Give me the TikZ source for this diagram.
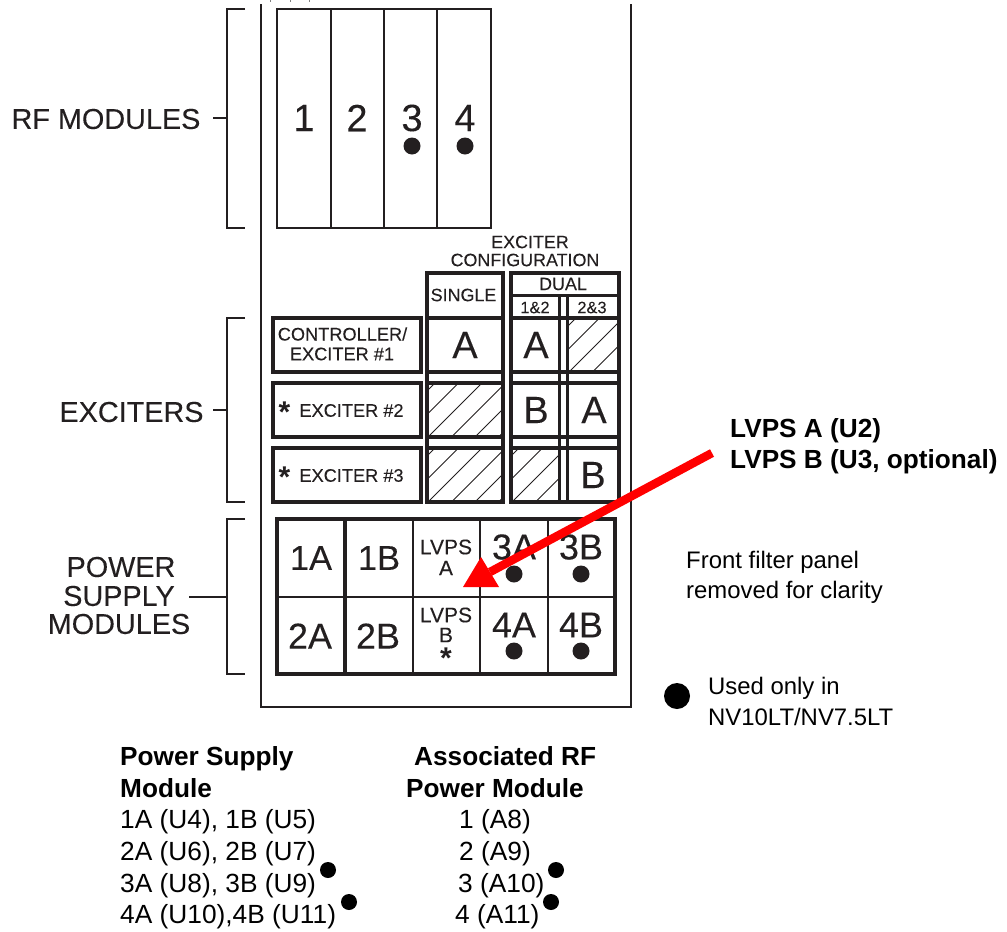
\documentclass[tikz,border=0pt]{standalone}
\usepackage{fontspec}
\setmainfont{Liberation Sans}
\newfontfamily\diagfont[FakeBold=0.12]{Liberation Sans}
\definecolor{ink}{HTML}{231F20}
\tikzset{
 x=1pt,y=-1pt,
 thin line/.style={draw=ink,line width=1.3pt},
 panel/.style={draw=ink,line width=1.9pt},
 heavyline/.style={draw=ink,line width=3.3pt},
 lbl/.style={inner sep=0pt,text=ink,align=center,font=\diagfont\fontsize{#1}{#1}\selectfont},
 lbl/.default=28.8,
 txt/.style={inner sep=0pt,text=black,anchor=west,yshift=-2pt,font=\fontsize{23.9}{23.9}\selectfont},
 tabletxt/.style={inner sep=0pt,text=black,anchor=base west,font=\fontsize{26.3}{26.3}\selectfont},
 boldtxt/.style={inner sep=0pt,text=black,anchor=base west,font=\fontsize{26.2}{26.2}\selectfont\bfseries},
 dot/.style={circle,fill=black,inner sep=0pt,minimum size=#1},
 dot/.default=16,
 inkdot/.style={circle,fill=ink,inner sep=0pt,minimum size=17},
}
\newcommand{\hatchbox}[4]{%
 \begin{scope}
 \clip (#1,#2) rectangle (#3,#4);
 \foreach \k in {-3,...,8}{
   \draw[ink,line width=0.8pt] ({#1+\k*23.5},{#4}) -- ++(80,-80);
 }
 \end{scope}}
\begin{document}
\begin{tikzpicture}
\useasboundingbox (0,0) rectangle (1007,932);
% panel
\draw[panel] (261,4) -- (261,707) -- (631,707) -- (631,4);
% top remnants
\foreach \px in {270,290,309}{\draw[gray,line width=1pt] (\px,0) -- (\px,1.5);}
% brackets
\draw[thin line] (245,9) -- (227,9) -- (227,228) -- (245,228);
\draw[thin line] (213,118) -- (227,118);
\draw[thin line] (245,318) -- (227,318) -- (227,502) -- (245,502);
\draw[thin line] (213,410) -- (227,410);
\draw[thin line] (245,519) -- (227,519) -- (227,674) -- (245,674);
\draw[thin line] (189,597) -- (227,597);
% side labels
\node[lbl] (rfl) at (106,119) {RF MODULES};
\node[lbl] (exl) at (131.5,412) {EXCITERS};
\node[lbl] (psl) at (121,567) {POWER};
\node[lbl] (psl2) at (119,596) {SUPPLY};
\node[lbl] (psl3) at (119,624) {MODULES};
% RF
\draw[panel] (277,9) rectangle (491,228);
\foreach \px in {331,384,437}{\draw[panel] (\px,9) -- (\px,228);}
\node[lbl=38] (r1) at (304,118) {1};
\node[lbl=38] (r2) at (357,118) {2};
\node[lbl=38] (r3) at (412,118) {3};
\node[lbl=38] (r4) at (465,118) {4};
\node[inkdot] (rd3) at (412,146) {};
\node[inkdot] (rd4) at (465,146) {};
% exciter boxes
\draw[heavyline] (273,318) rectangle (421,372);
\draw[heavyline] (273,383) rectangle (421,437);
\draw[heavyline] (273,448) rectangle (421,502);
\node[lbl=18.2] (c1) at (342.5,334) {CONTROLLER/};
\node[lbl=18.2] (c2) at (342,354) {EXCITER \#1};
\node[lbl=18.2] (e2) at (351.5,410.5) {EXCITER \#2};
\node[lbl=18.2] (e3) at (351.5,475.5) {EXCITER \#3};
\node[lbl=30,font=\fontsize{30}{30}\selectfont\bfseries] (s2) at (284.5,412) {*};
\node[lbl=30,font=\fontsize{30}{30}\selectfont\bfseries] (s3) at (284.5,477) {*};
% config heading
\node[lbl=17.9] (h1) at (530,242) {EXCITER};
\node[lbl=17.9] (h2) at (525,260) {CONFIGURATION};
% hatch
\hatchbox{428}{383}{503}{437}
\hatchbox{428}{448}{503}{502}
\hatchbox{512}{448}{559}{502}
\hatchbox{569}{318}{618}{372}
% config grid
\draw[heavyline] (427,273) rectangle (503,502);
\draw[heavyline] (511,273) rectangle (619,502);
\draw[heavyline] (511,295.5) -- (619,295.5);
\draw[heavyline] (559.5,295) -- (559.5,502);
\draw[heavyline] (567.5,295) -- (567.5,502);
\foreach \py in {318,372,383,437,448}{
  \draw[heavyline] (427,\py) -- (503,\py);
  \draw[heavyline] (511,\py) -- (619,\py);
}
\node[lbl=17.9] (sg) at (463.5,295) {SINGLE};
\node[lbl=17.9] (du) at (563,284) {DUAL};
\node[lbl=16.4] (d12) at (535,307.5) {1\&2};
\node[lbl=16.4] (d23) at (592,307.5) {2\&3};
\node[lbl=38] (sa) at (465,345) {A};
\node[lbl=38] (da1) at (536,345) {A};
\node[lbl=38] (db1) at (536,410) {B};
\node[lbl=38] (da2) at (594,410) {A};
\node[lbl=38] (db2) at (593,475) {B};
% power supply
\draw[heavyline] (277,519) rectangle (615,674);
\draw[panel,line width=2.6pt] (277,597) -- (615,597);
\draw[heavyline] (345,519) -- (345,674);
\draw[panel,line width=2.6pt] (413,519) -- (413,674);
\draw[panel] (480,519) -- (480,674);
\draw[panel,line width=2.6pt] (548,519) -- (548,674);
\node[lbl=34.5] (p1a) at (311,558) {1A};
\node[lbl=34.5] (p1b) at (379,558) {1B};
\node[lbl=36] (p2a) at (310,636) {2A};
\node[lbl=36] (p2b) at (378,636) {2B};
\node[lbl=36] (p3a) at (514,547) {3A};
\node[lbl=36] (p3b) at (581,547) {3B};
\node[lbl=36] (p4a) at (514,625) {4A};
\node[lbl=36] (p4b) at (581,625) {4B};
\node[inkdot] (pd3a) at (514,574) {};
\node[inkdot] (pd3b) at (581,574) {};
\node[inkdot] (pd4a) at (514,651) {};
\node[inkdot] (pd4b) at (581,651) {};
\node[lbl=21] (lva) at (446,547) {LVPS};
\node[lbl=21] (lvaa) at (446,568) {A};
\node[lbl=21] (lvb) at (446,615) {LVPS};
\node[lbl=21] (lvbb) at (446,635) {B};
\node[lbl=30,font=\fontsize{30}{30}\selectfont\bfseries] (lvs) at (446,658) {*};
% red arrow
\coordinate (arrowstart) at (712,453);
\coordinate (arrowtip) at (463,587);
\coordinate (headbase) at (490,572);
\draw[red,line width=8.5pt] (arrowstart) -- (headbase);
\fill[red] (arrowtip) -- (481,557) -- (499,587) -- cycle;
% annotations
\node[boldtxt] (n1) at (730,437) {LVPS A (U2)};
\node[boldtxt] (n2) at (730,468) {LVPS B (U3, optional)};
\node[txt] (f1) at (686,560) {Front filter panel};
\node[txt] (f2) at (686,590) {removed for clarity};
\node[dot=26] (legend) at (677,696) {};
\node[txt] (u1) at (708,686) {Used only in};
\node[txt] (u2) at (708,715) {NV10LT/NV7.5LT};
% table
\node[boldtxt] (t1) at (120,765) {Power Supply};
\node[boldtxt] (t2) at (120,797) {Module};
\node[tabletxt] (t3) at (120,828.5) {1A (U4), 1B (U5)};
\node[tabletxt] (t4) at (120,860) {2A (U6), 2B (U7)};
\node[tabletxt] (t5) at (120,892) {3A (U8), 3B (U9)};
\node[tabletxt] (t6) at (120,923.5) {4A (U10),4B (U11)};
\node[boldtxt] (a1) at (414,765) {Associated RF};
\node[boldtxt] (a2) at (406,797) {Power Module};
\node[tabletxt] (a3) at (459,828.5) {1 (A8)};
\node[tabletxt] (a4) at (459,860) {2 (A9)};
\node[tabletxt] (a5) at (458,892) {3 (A10)};
\node[tabletxt] (a6) at (455,923.5) {4 (A11)};
\node[dot] (d1) at (328,870) {};
\node[dot] (d2) at (349,902) {};
\node[dot] (d3) at (556,870) {};
\node[dot] (d4) at (551,902) {};
\end{tikzpicture}
\end{document}
